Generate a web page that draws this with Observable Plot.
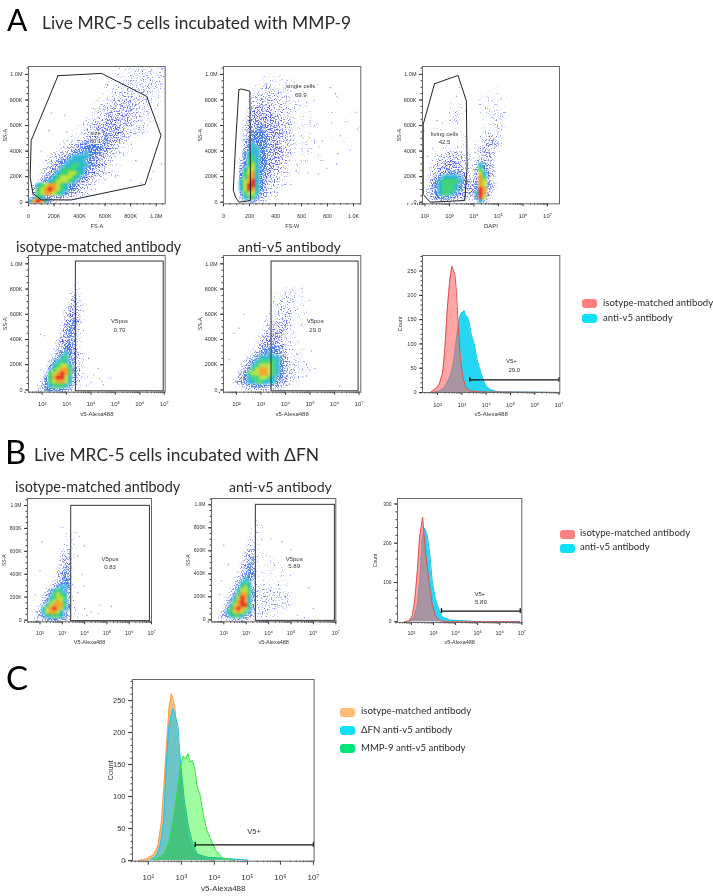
<!DOCTYPE html>
<html><head><meta charset="utf-8">
<script src="https://cdn.jsdelivr.net/npm/d3@7"></script>
<script src="https://cdn.jsdelivr.net/npm/@observablehq/plot@0.6"></script>
<style>
html,body{margin:0;padding:0;background:#fff}
#page{position:relative;width:713px;height:896px;overflow:hidden;font-family:Lato,sans-serif;color:#2a2a2a}
#page svg{position:absolute}
.h{position:absolute;white-space:nowrap;line-height:1;z-index:3}
.sw{position:absolute;width:15px;height:9px;border-radius:3px}
</style></head><body><div id="page">
<svg width="0" height="0" aria-hidden="true"><defs>
<filter id="sp1" x="0" y="0" width="100%" height="100%" color-interpolation-filters="sRGB"><feGaussianBlur in="SourceGraphic" stdDeviation="1.2" result="s"/><feTurbulence type="fractalNoise" baseFrequency="0.75" numOctaves="1" seed="3"/><feColorMatrix values="0 0 0 0 0 0 0 0 0 0 0 0 0 0 0 0 0 0 8 -4.8" result="m"/><feComposite in="s" in2="m" operator="in"/></filter>
<filter id="sp2" x="0" y="0" width="100%" height="100%" color-interpolation-filters="sRGB"><feGaussianBlur in="SourceGraphic" stdDeviation="1.2" result="s"/><feTurbulence type="fractalNoise" baseFrequency="0.75" numOctaves="1" seed="3"/><feColorMatrix values="0 0 0 0 0 0 0 0 0 0 0 0 0 0 0 0 0 0 8 -4.35" result="m"/><feComposite in="s" in2="m" operator="in"/></filter>
<filter id="sp3" x="0" y="0" width="100%" height="100%" color-interpolation-filters="sRGB"><feGaussianBlur in="SourceGraphic" stdDeviation="1" result="s"/><feTurbulence type="fractalNoise" baseFrequency="0.75" numOctaves="1" seed="3"/><feColorMatrix values="0 0 0 0 0 0 0 0 0 0 0 0 0 0 0 0 0 0 8 -3.77" result="m"/><feComposite in="s" in2="m" operator="in"/></filter>
<filter id="sp4" x="0" y="0" width="100%" height="100%" color-interpolation-filters="sRGB"><feGaussianBlur in="SourceGraphic" stdDeviation="0.9" result="s"/><feTurbulence type="fractalNoise" baseFrequency="0.75" numOctaves="1" seed="3"/><feColorMatrix values="0 0 0 0 0 0 0 0 0 0 0 0 0 0 0 0 0 0 8 -3.04" result="m"/><feComposite in="s" in2="m" operator="in"/></filter>
</defs></svg></div>
<script>
// Pseudocolour density, one string per row (top to bottom), '.' = no events, 1..9 = density level
const sizeGrid = [
"......................1..1.12.1.121",
"......................1.1.11212.212",
".....................1.1.212121.122",
"....................1.1.21212121212",
"...................1..121212122121.",
"...................1.12121212212112",
"..................1.12122122212.1.1",
".................1..1212222212121.1",
".................1.112222322221.1..",
"................1.1222232322121.1..",
"................11222323232221.1...",
"...............1.12232323322121....",
"..............1.122232333222121.1..",
"..............112223333232221.1....",
".............11223233332322121..1..",
"............1.2223333332221211.....",
"...........1.12233333333222121.....",
"..........1.122333343332221.1......",
".........1.1223334343332211........",
"........1122334444333221.1.........",
".......11223344444433221.1.........",
"......1122344454443322121..........",
".....12233455554433221.1...........",
"....122344555544332211....1........",
"....12334556655443321.1............",
"...123345666554332211.1............",
"...1234566776543322111.............",
"..123456777654332211.1.............",
"..13456777654332211................",
".2567887654432211..................",
".3678987654432211..................",
".3678876543322211..................",
"24654433322111.....................",
"5898532111.1......................."];
const singleGrid = [
".", ".",
"..........1.1.1",
".........1.11.11.1",
"........1.2121.1.1.....1",
".......1.12211.21.1.......1",
".......1212222121.1.1",
".......2222222211.1.1.......1",
"......12232222121.1...1",
"......1223232221.21.1",
"......2333232222111.1",
"......23333322221.11.1....1.....1",
".....1233333332221.1.1",
".....1333333322221.1.1........1",
".....1333433332221.1.1.1",
".....23344333322211.1....1.......1",
".....2344443333221.1.1",
".....2344443333221.1.1....1",
".....3444443332221.11.1.......1",
".....34544433322211.1.1",
".....3455443333221.1.1.1.......1",
".....4555443333221.1.1",
"....14565443332211.1...1",
"....2466544333221.1.1...1",
"....3467544333211.1",
"....3577544332211.1......1",
"....4678543322111.1",
"....4688543322111",
"....5789543222111",
"....5799543221.1",
"....5798543211",
"....4677533211",
"....3566432111",
".....234221"];
const livingGrid = [
".",".",".",".",".",
"..................1",
".........1......1.1",
"..............1.1.1.1",
"..............1.11.1",
".......1.1....1.1.1",
".......1.1.....11.1.1",
"......1.2.1...1.1.2.1",
".......121.....1.2121",
"......1221.....1.121",
".........1.....1.121",
"..1.1..1.......1.1121",
".......1.1.....12121",
"........1.1...1.2221",
"..........1..1.22321",
"......1.1.1..1.23231",
".....1.111.1.12322",
"...1.12222.1.12332",
"...1222232211.12321",
"..1222333221123322",
"..1223333321125432",
"..2233333322136432",
"..2233444332137532",
".12345555432138632",
".23456666543238731",
".134566654333487431",
".23456665433349832",
".23456654333359831",
".23444433332249731",
"..12222211.112531"];
const isoAGrid = [
".",".",".",".",".",".",
"............1",
"...........1",
"..........1.1",
"..........121",
"...........21",
"..........2321",
"..........2321",
".........23321",
".........2332",
".........23321",
".........33431",
"........2343",
"........23431",
"........23432",
"........33431",
".......233431",
".......234431",
".......234431",
"......13454321",
"......24564321",
".....245654321",
".....356775321",
"....1467886421",
"....2678986321",
"...146899753211",
"...2467887532",
"..13456665421.1",
"..22444443211"];
const antiAGrid = [
".",".",".",".",".",".",".",".",
"...............1.1.1",
"...........1.1.121.1",
"............1.1211.1",
"............1.2121.1.1",
"............1222.1.1",
"...........1.1222.1",
"...........1.2122.1.1",
"..........1.12222.1",
"..........12222321.1",
"..........12232321.1",
"..........2232321.1",
".........1223332.1",
".........2333321.1",
"........123333211.1",
"........2333433211",
".......12344443211.1",
".......234454432111",
"......2345555543211",
".....23456666543211.1",
"....12356777654322111",
"....2346788765432211.1",
"...134677887654322111",
"...234566776544322111",
"..13345566555433211",
"...1233444433322111",
".....1222222211"];
const isoBGrid = [
".",".",".",".",".",".",".",".",".",
"...........1.1",
"..........1.1.1",
"...........11",
"..........1.1",
"..........121",
"..........22",
".........1231",
".........2321",
".........233",
".........2331",
"........12341",
"........2343",
"........23431",
".......123441",
".......234441",
"......1245541",
".....2456543",
".....34676531",
"....135677631",
"....246787531",
"...1357888641",
"..125789875421",
"..23578875311",
"..134566654211",
"..222444433211"];
const antiBGrid = [
".",".",".",".",".",".",
"............1",
"...........1.1",
"...........1.1",
"...........11",
"..........1.1",
"..........121",
"..........21.1",
".........1221",
".........232.1",
".........2321.1",
".........2331.1.1",
"........12341.1.1.1",
"........2343.1.1.1.1",
"........23431.1..1.1",
".......123441.1.1..1",
".......23444.1.1.1.1.1",
".......245421.1.1.1.1",
"......23565.1.1.1.1.1",
"......246752121.1.1.1",
".....235776421212121.1",
".....24688642121212121",
"....13579853212121212.1",
"....246898532121212121",
"...1357899632212121211",
"...2468987532122121.1",
"..13567876421212.1.1",
"..23456654322111.1",
"..122333332111.1"];
const densityColors = ["#7a84ee","#5f6be8","#4654e2","#2e6ae6","#1fb4d0","#35d070","#b8e030","#f29a1e","#e6261c"];

// Sparse events outside the dense clouds
const sizeDots = [[280,680],[160,560],[340,480],[100,400],[480,960],[620,920],[700,1000],[800,950],[760,1040],[1010,760],[1000,420],[1040,300],[980,240],[700,210],[800,170],[880,150],[600,180],[960,180],[300,550],[180,700]];
const singleDots = [[820,900],[860,850],[900,520],[830,620],[880,380],[870,300],[760,480],[730,220],[650,230],[560,250],[520,140],[600,320],[650,400],[700,600],[590,760],[640,780],[480,900],[480,500],[450,130],[500,620],[540,520]];
const livingDots = [[1.95,560],[2.3,420],[2.1,360],[2.7,620],[2.5,640],[3.3,830],[3.4,900]];
const isoADots = [[1.95,440],[2.1,430],[2.5,320],[2.3,110],[1.95,160],[4.1,120],[4.3,170],[4.35,90],[4.5,40],[4.0,60],[3.9,250],[3.7,470],[2.7,300],[4.8,95],[4.45,70]];
const antiADots = [[2.3,600],[2.1,490],[1.9,450],[1.7,240],[2.5,180],[5.2,170],[6.2,30],[4.9,180],[5.05,310],[4.5,280],[4.0,760],[4.3,720],[3.5,700],[4.4,630],[2.6,60],[2.2,60]];
const isoBDots = [[2.1,680],[3.0,810],[2.0,430],[1.8,220],[3.0,600],[3.9,400],[4.0,300],[4.7,130],[4.0,100],[4.3,70],[4.6,60],[3.7,560],[4.0,650],[5.2,120],[3.5,170],[3.6,90],[3.7,240],[4.1,40]];
const antiBDots = [[2,650],[2.2,480],[1.9,340],[1.8,220],[3.5,820],[3.7,700],[4.1,705],[4.6,680],[5,610],[5.8,280],[6.0,100],[5.3,40],[5.6,20]];

// Gates
const sizeGate = [[231,990],[572,1008],[926,828],[1037,522],[913,139],[336,18],[100,18],[34,70],[13,196],[21,483],[231,990]];
const singleGate = [[118,880],[136,886],[203,869],[208,13],[118,0],[93,39],[75,92],[93,457],[118,880]];
const livingGate = [[2.39,927],[3.35,992],[3.69,792],[3.72,273],[3.62,13],[2.22,0],[1.93,60],[1.93,610],[2.39,927]];

// Histograms: [log10 fluorescence, count]
const isoAHist = [[1.73,1],[1.93,8],[2.07,17],[2.21,41],[2.30,89],[2.41,179],[2.51,234],[2.59,260],[2.71,244],[2.78,206],[2.85,137],[2.93,76],[3.03,34],[3.16,10],[3.37,3],[3.78,1],[7,0]];
const antiAHist = [[1.86,1],[2.07,3],[2.27,10],[2.41,21],[2.55,38],[2.68,69],[2.79,117],[2.89,151],[2.96,162],[3.10,168],[3.16,158],[3.23,156],[3.30,144],[3.40,117],[3.51,100],[3.64,65],[3.78,41],[3.95,17],[4.12,7],[4.33,3],[4.60,1],[7,0]];
const isoBHist = [[1.67,0],[1.90,2],[2.04,15],[2.15,53],[2.27,130],[2.37,215],[2.51,266],[2.64,177],[2.79,104],[2.94,44],[3.09,15],[3.31,2],[3.76,0],[6.9,0]];
const antiBHist = [[1.90,0],[2.12,10],[2.27,44],[2.39,113],[2.49,214],[2.60,238],[2.72,220],[2.84,169],[2.94,104],[3.09,57],[3.24,32],[3.39,12],[3.76,4],[4.36,2],[4.66,1],[5.1,0],[6.9,0]];
const isoCHist = [[1.72,0],[1.97,3],[2.17,10],[2.29,23],[2.39,57],[2.47,115],[2.56,188],[2.63,240],[2.70,261],[2.80,242],[2.86,208],[2.94,161],[3.02,109],[3.13,57],[3.26,26],[3.43,10],[3.69,3],[3.99,0]];
const fnCHist = [[2.07,1],[2.25,8],[2.37,26],[2.47,63],[2.54,146],[2.62,208],[2.70,229],[2.75,238],[2.83,224],[2.90,208],[2.98,151],[3.08,99],[3.20,57],[3.33,29],[3.48,10],[3.79,5],[4.39,3],[5.0,1]];
const mmpCHist = [[2.17,0],[2.48,10],[2.63,29],[2.76,63],[2.88,109],[2.98,148],[3.06,163],[3.13,159],[3.20,167],[3.26,154],[3.33,156],[3.41,143],[3.48,115],[3.56,104],[3.66,73],[3.76,49],[3.88,34],[4.04,16],[4.24,4],[4.60,0]];

const kTicks = [0,200,400,600,800,1000];
const kMinor = d3.range(0,1060,50);
const decades = [2,3,4,5,6,7];
const sup = {2:"²",3:"³",4:"⁴",5:"⁵",6:"⁶",7:"⁷"};
const minorLog = decades.flatMap(e=>[2,3,4,5,6,7,8,9].map(m=>m*10**(e-1))).concat([1e7]);

const page = document.getElementById("page");
const ML=26, MT=3, MB=42, MR=14;
const noLabel = ()=>"";
const kFmt = d=>d===0?"0":d===1000?"1.0M":d+"K";
const pow = a=>a.map(([l,v])=>[10**l,v]);

function cells(grid, xd, yd, logX){
  const n=34, out=[];
  const X = i => logX ? 10**(xd[0]+(xd[1]-xd[0])*i/n) : xd[0]+(xd[1]-xd[0])*i/n;
  const Y = j => yd[1]-(yd[1]-yd[0])*j/n;
  grid.forEach((row,j)=>{[...row].forEach((c,i)=>{ if(c!=="."&&i<n) out.push({x1:X(i),x2:X(i+1),y1:Y(j+1),y2:Y(j),level:+c}); });});
  return out;
}
function xAxes(log, o){
  const f=o.xFont||5.5;
  return log ? [
    Plot.axisX({ticks:decades.map(d=>10**d),tickSize:o.tick||3,tickPadding:o.pad,tickFormat:d=>"10"+sup[Math.round(Math.log10(d))],label:o.xLabel,labelAnchor:"center",labelArrow:"none",labelOffset:o.lo,fontSize:f}),
    Plot.axisX({ticks:minorLog,tickSize:1.5,tickFormat:noLabel,label:null})
  ] : [
    Plot.axisX({ticks:kTicks,tickSize:o.tick||3,tickPadding:o.pad,tickFormat:o.xFmt||kFmt,label:o.xLabel,labelAnchor:"center",labelArrow:"none",labelOffset:o.lo,fontSize:f}),
    Plot.axisX({ticks:kMinor,tickSize:1.5,tickFormat:noLabel,label:null})
  ];
}
function draw(o, marks){
  const w=o.R-o.L, h=o.B-o.T;
  const p = Plot.plot({
    width:w+ML+MR, height:h+MT+MB, marginLeft:ML, marginRight:MR, marginTop:MT, marginBottom:MB,
    style:{background:"transparent",fontFamily:"Liberation Sans, Arial, sans-serif",fontSize:(o.font||5.5)+"px",color:"#333"},
    x:o.log?{type:"log",domain:[10**o.xd[0],10**o.xd[1]],base:10}:{type:"linear",domain:o.xd},
    y:{type:"linear",domain:o.yd},
    color:{type:"ordinal",domain:[1,2,3,4,5,6,7,8,9],range:densityColors},
    marks
  });
  p.style.left=(o.L-ML)+"px"; p.style.top=(o.T-MT)+"px";
  page.appendChild(p);
}
function scatter(o){
  const tx=o.log?(d=>10**d[0]):(d=>d[0]);
  const all=cells(o.grid,o.xd,o.yd,o.log);
  const rectOpts={x1:"x1",x2:"x2",y1:"y1",y2:"y2",fill:"level",clip:"frame"};
  draw(o,[
    Plot.rect(all.filter(d=>d.level===1),{...rectOpts,imageFilter:"url(#sp1)"}),
    Plot.rect(all.filter(d=>d.level===2),{...rectOpts,imageFilter:"url(#sp2)"}),
    Plot.rect(all.filter(d=>d.level===3),{...rectOpts,imageFilter:"url(#sp3)"}),
    Plot.rect(all.filter(d=>d.level===4),{...rectOpts,imageFilter:"url(#sp4)"}),
    Plot.rect(all.filter(d=>d.level>4),{...rectOpts,imageFilter:"blur(0.8px)"}),
    Plot.dot(o.dots,{x:tx,y:d=>d[1],r:0.55,fill:"#5560e0",stroke:null,clip:"frame"}),
    ...(o.gate?[Plot.line(o.gate,{x:tx,y:d=>d[1],stroke:"#222",strokeWidth:1,curve:"linear"})]:[]),
    ...(o.box?[Plot.rect([o.box],{x1:d=>10**d[0],x2:d=>10**d[1],y1:d=>d[2],y2:d=>d[3],fill:null,stroke:"#333",strokeWidth:1})]:[]),
    Plot.text(o.labels,{x:tx,y:d=>d[1],text:d=>d[2],fill:"#333",stroke:"white",strokeWidth:2,strokeOpacity:0.85,fontSize:6}),
    Plot.axisY({ticks:kTicks,tickSize:3,tickPadding:3,tickFormat:kFmt,label:o.yLabel||"SS-A",labelAnchor:"center",labelArrow:"none",labelOffset:25}),
    Plot.axisY({ticks:kMinor,tickSize:1.5,tickFormat:noLabel,label:null}),
    ...xAxes(o.log,o),
    Plot.frame({stroke:"#666",strokeWidth:1})
  ]);
}
function histogram(o){
  o={...o,log:true};
  const layer=s=>[
    Plot.areaY(pow(s.data),{x:d=>d[0],y:d=>d[1],fill:s.fill,fillOpacity:s.op,mixBlendMode:s.blend,curve:"linear"}),
    Plot.lineY(pow(s.data),{x:d=>d[0],y:d=>d[1],stroke:s.stroke,strokeWidth:s.sw||1,curve:"linear"})
  ];
  draw(o,[
    ...o.series.flatMap(layer),
    Plot.ruleY([o.gate],{x1:d=>10**d[0],x2:d=>10**d[1],y:d=>d[2],stroke:"#111",strokeWidth:1.4}),
    Plot.ruleX([o.gate[0],o.gate[1]],{x:d=>10**d,y1:o.gate[2]-o.capH,y2:o.gate[2]+o.capH,stroke:"#111",strokeWidth:1.4}),
    Plot.text(o.labels,{x:d=>10**d[0],y:d=>d[1],text:d=>d[2],fill:"#333",fontSize:o.labelFont||6}),
    Plot.axisY({ticks:o.yTicks,tickSize:o.tick||3,tickPadding:3,label:"Count",labelAnchor:"center",labelArrow:"none",labelOffset:o.yLo||24,fontSize:o.font||5.5}),
    Plot.axisY({ticks:o.yMinor,tickSize:1.5,tickFormat:noLabel,label:null}),
    ...xAxes(true,o),
    Plot.frame({stroke:"#666",strokeWidth:1})
  ]);
}
const yA=[-12.5,1062];
scatter({L:28.3,T:66,R:165,B:203.3,xd:[0,1070],yd:yA,grid:sizeGrid,dots:sizeDots,gate:sizeGate,labels:[[525,543,"size"],[525,475,"80.1"]],xLabel:"FS-A",pad:7,lo:24});
scatter({L:222.7,T:66,R:360,B:203.3,xd:[0,1056],yd:yA,grid:singleGrid,dots:singleDots,gate:singleGate,labels:[[594,906,"single cells"],[594,841,"69.9"]],xLabel:"FS-W",xFmt:d=>d===0?"0":d===1000?"1.0K":d+"",pad:7,lo:24});
scatter({L:422,T:66,R:559,B:203.3,log:true,xd:[1.9,7.49],yd:yA,grid:livingGrid,dots:livingDots,gate:livingGate,labels:[[2.8,530,"living cells"],[2.8,467,"42.5"]],xLabel:"DAPI",pad:7,lo:24,xFont:6});
const yA2=[-18,1066];
scatter({L:28.3,T:255,R:165,B:391.7,log:true,xd:[1.44,7.04],yd:yA2,grid:isoAGrid,dots:isoADots,box:[3.38,6.98,-11,1018],labels:[[5.17,542,"V5pos"],[5.17,476,"0.70"]],xLabel:"v5-Alexa488",pad:7,lo:24,xFont:6});
scatter({L:222.7,T:255,R:360,B:391.7,log:true,xd:[1.47,7.07],yd:yA2,grid:antiAGrid,dots:antiADots,box:[3.43,6.98,-11,1018],labels:[[5.21,542,"V5pos"],[5.21,476,"29.0"]],xLabel:"v5-Alexa488",pad:7,lo:24,xFont:6});
histogram({L:421.7,T:255,R:559,B:392,xd:[1.38,7.03],yd:[0,282],series:[
  {data:antiAHist,fill:"#00d0f2",op:0.85,stroke:"#14c4e4"},
  {data:isoAHist,fill:"#ff6969",op:0.6,stroke:"#e05050"}],
  gate:[3.33,7.0,26],capH:4.5,labels:[[5.04,65,"V5+"],[5.16,47,"29.0"]],yTicks:[0,50,100,150,200,250],yMinor:d3.range(0,281,10),xLabel:"v5-Alexa488",pad:7,lo:24,xFont:6});
const yB=[-15,1061];
scatter({L:26.7,T:497.7,R:150.7,B:621,log:true,xd:[1.44,7.0],yd:yB,grid:isoBGrid,dots:isoBDots,box:[3.40,6.93,-9,997],labels:[[5.14,532,"V5pos"],[5.14,465,"0.83"]],xLabel:"V5-Alexa488",pad:6,lo:22,font:5,xFont:5.5});
scatter({L:210.7,T:497.7,R:335,B:621,log:true,xd:[1.45,7.0],yd:[-17,1055],grid:antiBGrid,dots:antiBDots,box:[3.43,6.96,-9,1000],labels:[[5.14,532,"V5pos"],[5.14,465,"5.89"]],xLabel:"v5-Alexa488",pad:6,lo:22,font:5,xFont:5.5});
histogram({L:396.7,T:497.7,R:521,B:621.7,xd:[1.37,7.0],yd:[-2,314],series:[
  {data:antiBHist,fill:"#00d0f2",op:0.85,stroke:"#14c4e4"},
  {data:isoBHist,fill:"#ff6969",op:0.6,stroke:"#e05050"}],
  gate:[3.36,6.93,27],capH:6,labels:[[5.1,70,"V5+"],[5.15,49,"5.89"]],yTicks:[0,100,200,300],yMinor:d3.range(0,311,20),xLabel:"v5-Alexa488",pad:6,lo:22,font:5,xFont:5.5});
histogram({L:131.7,T:679,R:313.3,B:860.7,xd:[1.52,7.02],yd:[-1,283],series:[
  {data:isoCHist,fill:"#f8bd80",op:1,stroke:"#f0a050"},
  {data:fnCHist,fill:"#3fc8e0",op:0.75,stroke:"#20c4dc"},
  {data:mmpCHist,fill:"#a0fca0",op:1,blend:"multiply",stroke:"#30e040"}],
  gate:[3.42,7.0,24.5],capH:4,labels:[[5.2,46,"V5+"]],labelFont:7.5,yTicks:[0,50,100,150,200,250],yMinor:d3.range(0,281,10),xLabel:"v5-Alexa488",pad:9,lo:30,font:7.5,xFont:8,yLo:25,tick:4});

function heading(t,x,base,size,col){
  const e=document.createElement("div");e.className="h";e.textContent=t;
  e.style.left=x+"px";e.style.top=(base-size*0.86)+"px";e.style.fontSize=size+"px";if(col)e.style.color=col;page.appendChild(e);
}
function swatch(x,y,c){const e=document.createElement("div");e.className="sw";e.style.left=x+"px";e.style.top=y+"px";e.style.background=c;page.appendChild(e);}
heading("A",7,30,30,"#000");heading("Live MRC-5 cells incubated with MMP-9",42,28.7,17.4);
heading("B",5,463,33,"#000");heading("Live MRC-5 cells incubated with ΔFN",34,461,17.4);
heading("C",6,689,33,"#000");
heading("isotype-matched antibody",16,252,14.4);heading("anti-v5 antibody",238,252,14.2);
heading("isotype-matched antibody",15,492.7,14.4);heading("anti-v5 antibody",229,492.7,14.2);
const legendA=["isotype-matched antibody","anti-v5 antibody"],legendC=["isotype-matched antibody","ΔFN anti-v5 antibody","MMP-9 anti-v5 antibody"];
[["#ff8080",299,306.7],["#10e0f5",314,321]].forEach(([c,y,b],i)=>{swatch(582,y,c);heading(legendA[i],603,b,9.6);});
[["#ff8080",529.5,536.7],["#10e0f5",544,550.7]].forEach(([c,y,b],i)=>{swatch(559.5,y,c);heading(legendA[i],580,b,9.6);});
[["#ffba78",707.7,714],["#10e0f5",726,733],["#00e676",743.5,751]].forEach(([c,y,b],i)=>{swatch(339.5,y,c);heading(legendC[i],361,b,9.6);});
</script></body></html>
